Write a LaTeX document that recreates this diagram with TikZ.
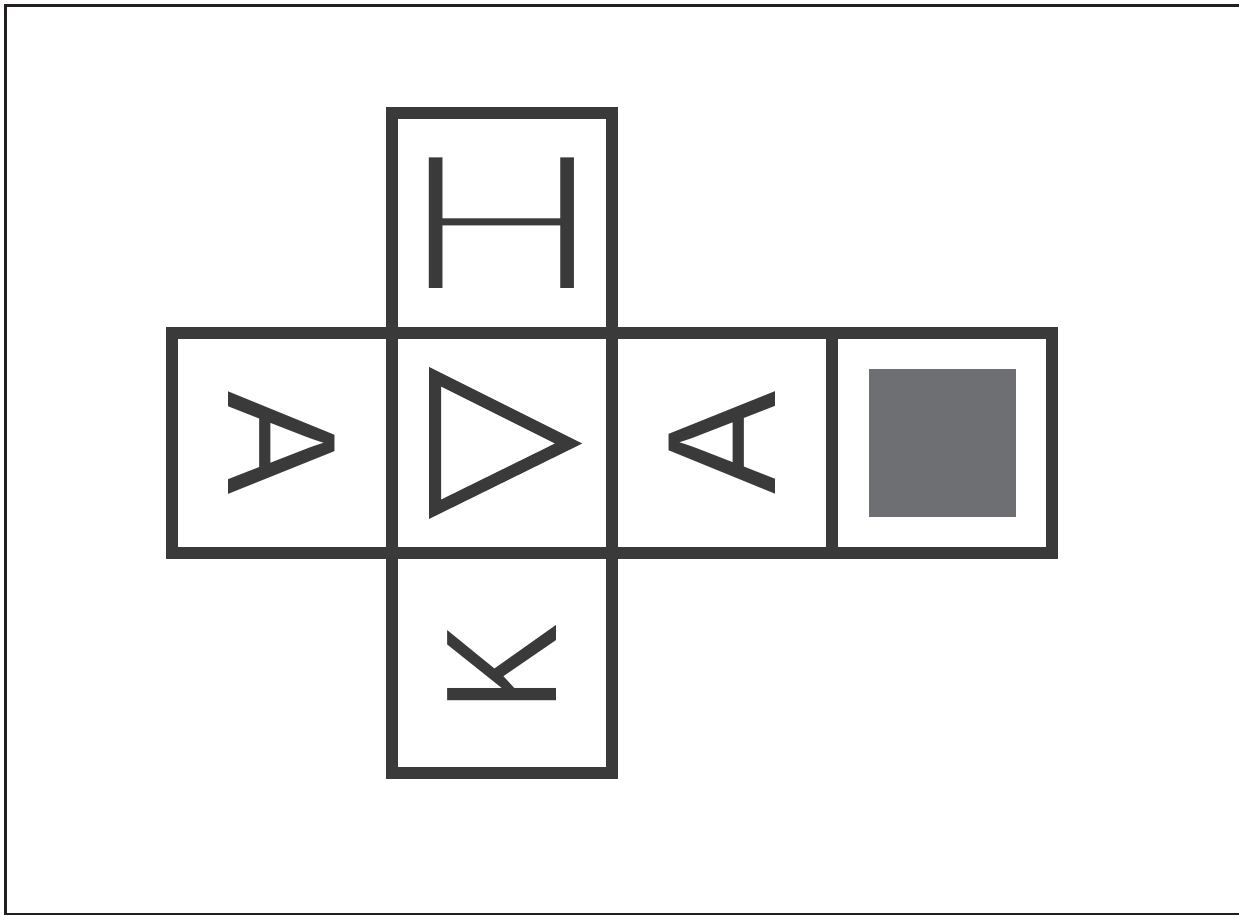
\documentclass[tikz,border=0pt]{standalone}
\usepackage{fontspec}
\newfontfamily\glyphfont{Liberation Sans}
\newfontfamily\lightfont{Lato Light}
\usetikzlibrary{positioning, calc}
\definecolor{netline}{HTML}{3A3A3A}
\definecolor{netfill}{HTML}{6E6F73}
\definecolor{framecol}{HTML}{231F20}
\tikzset{
	face/.style={rectangle, draw=netline, line width=0.12cm,
		minimum size=2.2cm, inner sep=0pt, outer sep=0pt},
	glyph/.style={inner sep=0pt, outer sep=0pt, text=netline,
		font=\glyphfont\fontsize{44}{44}\selectfont},
	shaded/.style={rectangle, fill=netfill, minimum size=1.47cm,
		inner sep=0pt, outer sep=0pt},
	outline/.style={draw=netline, line width=0.12cm, line join=miter}
}
\begin{document}
\begin{tikzpicture}[x=0.01cm, y=-0.01cm, node distance=0pt]
	\useasboundingbox (0,0) rectangle (1239,915);
	\draw[framecol, line width=0.02cm] (5.5,5.5) rectangle (1245,913.5);

	% faces of the net
	\node[face] (mid) at (502,443) {};
	\node[face, above=of mid] (top) {};
	\node[face, below=of mid] (bot) {};
	\node[face, left=of mid] (lft) {};
	\node[face, right=of mid] (rgt) {};
	\node[face, right=of rgt] (far) {};

	% marks on the faces
	\node[glyph, font=\lightfont\fontsize{52.5}{52.5}\selectfont, xscale=1.44]
	(hmark) at (top) {H};
	\node[glyph, rotate=-90] (amarkl) at (lft) {A};
	\node[glyph, rotate=90] (amarkr) at (rgt) {A};
	\node[glyph, font=\glyphfont\fontsize{45}{45}\selectfont, rotate=90, xscale=.83]
	(kmark) at ($(bot)+(0,5)$) {K};
	\draw[outline] ($(mid)+(-67,-66.3)$) -- ($(mid)+(66.6,0.5)$)
		-- ($(mid)+(-67,66.3)$) -- cycle;
	\node[shaded] (blank) at (far) {};
\end{tikzpicture}
\end{document}
